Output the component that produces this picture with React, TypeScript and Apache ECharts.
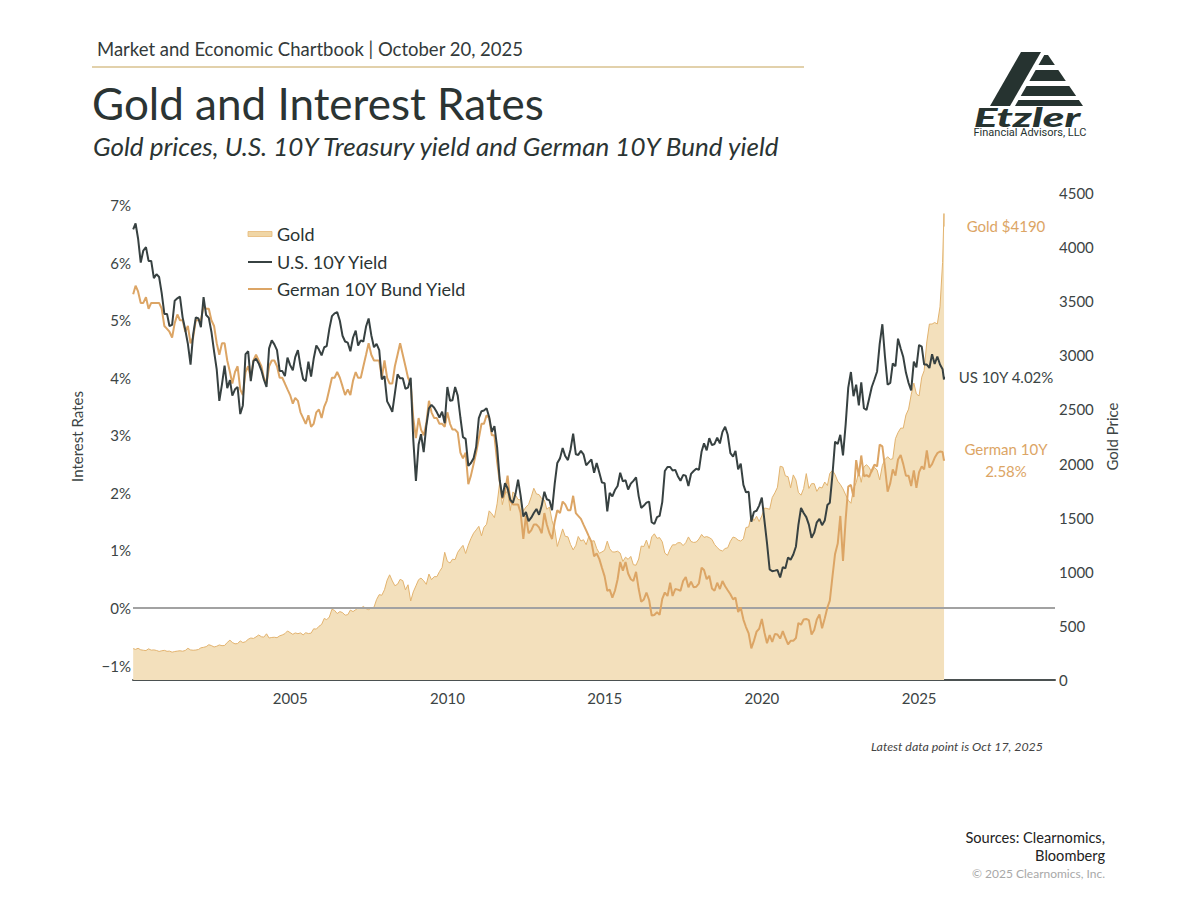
import React, { useEffect, useRef } from "react";
import * as echarts from "echarts";

// ---------- data ----------
// first value = 3 Jan 2000, then month-end observations Jan 2000 .. Sep 2025, then 16 & 17 Oct 2025
const START_DATE = "2000-01-03";
const FIRST_MONTH = [2000, 1];
const LAST_MONTH = [2025, 9];
const TAIL_DATES = ["2025-10-16", "2025-10-17"];

const US_10Y = [
  6.58,
  6.68, 6.42, 6.0, 6.21, 6.27, 6.03, 6.03, 5.73, 5.8, 5.75, 5.47, 5.11,
  5.11, 4.9, 4.92, 5.34, 5.38, 5.41, 5.05, 4.83, 4.59, 4.23, 4.75, 5.05,
  5.03, 4.88, 5.4, 5.09, 5.04, 4.8, 4.46, 4.14, 3.6, 3.89, 4.21, 3.82,
  3.96, 3.69, 3.8, 3.84, 3.37, 3.52, 4.41, 4.46, 3.94, 4.29, 4.33, 4.25,
  4.13, 3.97, 3.84, 4.51, 4.65, 4.58, 4.48, 4.12, 4.12, 4.03, 4.35, 4.22,
  4.13, 4.36, 4.48, 4.2, 3.98, 3.94, 4.28, 4.02, 4.33, 4.56, 4.49, 4.39,
  4.53, 4.55, 4.85, 5.07, 5.12, 5.14, 4.99, 4.73, 4.63, 4.61, 4.46, 4.7,
  4.82, 4.56, 4.65, 4.63, 4.89, 5.03, 4.74, 4.53, 4.59, 4.48, 3.97, 4.03,
  3.59, 3.51, 3.41, 3.73, 4.06, 3.99, 3.99, 3.81, 3.83, 4.0, 2.93, 2.21,
  2.84, 3.02, 2.71, 3.16, 3.47, 3.53, 3.48, 3.4, 3.31, 3.41, 3.21, 3.84,
  3.6, 3.61, 3.84, 3.69, 3.31, 2.97, 2.94, 2.47, 2.52, 2.6, 2.8, 3.3,
  3.42, 3.43, 3.47, 3.32, 3.06, 3.16, 2.8, 2.22, 1.92, 2.17, 2.08, 1.88,
  1.83, 1.98, 2.23, 1.95, 1.59, 1.67, 1.51, 1.57, 1.65, 1.72, 1.62, 1.78,
  2.02, 1.89, 1.87, 1.7, 2.16, 2.52, 2.6, 2.78, 2.64, 2.57, 2.75, 3.03,
  2.67, 2.66, 2.73, 2.67, 2.48, 2.53, 2.58, 2.35, 2.52, 2.35, 2.18, 2.17,
  1.68, 2.0, 1.94, 2.05, 2.12, 2.35, 2.2, 2.22, 2.06, 2.16, 2.21, 2.27,
  1.94, 1.74, 1.78, 1.83, 1.85, 1.49, 1.46, 1.58, 1.6, 1.84, 2.38, 2.45,
  2.45, 2.39, 2.4, 2.29, 2.21, 2.31, 2.3, 2.12, 2.33, 2.38, 2.42, 2.4,
  2.72, 2.86, 2.74, 2.95, 2.83, 2.85, 2.96, 2.86, 3.06, 3.15, 3.01, 2.69,
  2.63, 2.73, 2.41, 2.51, 2.14, 2.01, 2.02, 1.5, 1.67, 1.69, 1.78, 1.92,
  1.51, 1.13, 0.67, 0.64, 0.65, 0.66, 0.53, 0.71, 0.69, 0.88, 0.84, 0.93,
  1.07, 1.44, 1.74, 1.65, 1.58, 1.45, 1.22, 1.31, 1.49, 1.55, 1.44, 1.52,
  1.79, 1.83, 2.32, 2.89, 2.85, 3.01, 2.65, 3.19, 3.83, 4.1, 3.68, 3.88,
  3.52, 3.92, 3.47, 3.44, 3.64, 3.84, 3.97, 4.11, 4.59, 4.93, 4.37, 3.88,
  3.91, 4.25, 4.2, 4.68, 4.51, 4.36, 4.09, 3.91, 3.78, 4.28, 4.18, 4.57,
  4.54, 4.23, 4.23, 4.17, 4.41, 4.24, 4.37, 4.23, 4.15,
  3.97, 4.02,
];

const DE_10Y = [
  5.45,
  5.6, 5.5, 5.3, 5.3, 5.4, 5.2, 5.3, 5.3, 5.3, 5.3, 5.2, 4.9,
  4.85, 4.8, 4.7, 4.95, 5.1, 5.0, 5.0, 4.8, 4.9, 4.6, 4.7, 5.0,
  5.0, 5.0, 5.25, 5.2, 5.2, 5.0, 4.9, 4.6, 4.4, 4.6, 4.6, 4.3,
  4.1, 3.9, 4.1, 4.2, 3.8, 3.7, 4.1, 4.2, 4.0, 4.3, 4.4, 4.3,
  4.2, 4.0, 3.9, 4.2, 4.3, 4.3, 4.2, 4.0, 4.0, 3.9, 3.8, 3.7,
  3.55, 3.65, 3.6, 3.4, 3.3, 3.2, 3.35, 3.15, 3.2, 3.4, 3.45, 3.3,
  3.5, 3.6, 3.8, 4.0, 4.0, 4.1, 4.0, 3.85, 3.7, 3.8, 3.7, 3.95,
  4.1, 4.0, 4.0, 4.2, 4.4, 4.6, 4.4, 4.3, 4.3, 4.3, 4.0, 4.3,
  4.0, 3.9, 3.9, 4.2, 4.4, 4.6, 4.4, 4.2, 4.0, 3.9, 3.3, 2.95,
  3.3, 3.1, 3.0, 3.2, 3.6, 3.4, 3.3, 3.3, 3.2, 3.2, 3.15, 3.4,
  3.2, 3.1, 3.1, 3.05, 2.7, 2.6, 2.7, 2.15, 2.3, 2.5, 2.7, 2.95,
  3.2, 3.2, 3.35, 3.3, 3.0, 3.0, 2.55, 2.2, 1.9, 2.0, 2.3, 1.85,
  1.8, 1.8, 1.8, 1.65, 1.2, 1.6, 1.3, 1.35, 1.45, 1.45, 1.4, 1.3,
  1.65, 1.45, 1.3, 1.2, 1.5, 1.7, 1.65, 1.85, 1.8, 1.7, 1.7, 1.95,
  1.65, 1.6, 1.55, 1.45, 1.35, 1.25, 1.15, 0.9, 0.95, 0.85, 0.7, 0.55,
  0.3, 0.32, 0.18, 0.3, 0.5, 0.8, 0.65, 0.8, 0.6, 0.5, 0.47, 0.63,
  0.33, 0.11, 0.15, 0.27, 0.14, -0.13, -0.12, -0.07, -0.12, 0.16, 0.27, 0.21,
  0.44, 0.21, 0.33, 0.32, 0.3, 0.47, 0.54, 0.36, 0.46, 0.36, 0.37, 0.43,
  0.7, 0.66, 0.5, 0.56, 0.34, 0.3, 0.44, 0.33, 0.47, 0.38, 0.31, 0.24,
  0.15, 0.18, -0.07, 0.01, -0.2, -0.33, -0.44, -0.7, -0.57, -0.41, -0.36, -0.19,
  -0.43, -0.61, -0.47, -0.59, -0.45, -0.46, -0.53, -0.4, -0.52, -0.63, -0.57, -0.57,
  -0.52, -0.26, -0.29, -0.2, -0.19, -0.21, -0.46, -0.38, -0.2, -0.11, -0.35, -0.18,
  0.01, 0.13, 0.55, 0.94, 1.12, 1.6, 0.82, 1.54, 2.11, 2.14, 1.93, 2.57,
  2.29, 2.65, 2.29, 2.31, 2.28, 2.39, 2.49, 2.46, 2.84, 2.81, 2.45, 2.02,
  2.17, 2.41, 2.3, 2.58, 2.66, 2.5, 2.3, 2.3, 2.12, 2.39, 2.09, 2.36,
  2.46, 2.41, 2.74, 2.44, 2.5, 2.61, 2.69, 2.72, 2.71,
  2.56, 2.58,
];

const GOLD = [
  290,
  283, 293, 279, 275, 272, 288, 276, 278, 273, 264, 270, 274,
  265, 267, 257, 263, 267, 270, 266, 273, 293, 278, 275, 277,
  282, 297, 302, 308, 326, 318, 305, 312, 324, 317, 319, 347,
  368, 347, 334, 337, 361, 346, 354, 376, 388, 384, 398, 416,
  400, 396, 427, 388, 393, 395, 391, 408, 416, 428, 453, 438,
  422, 435, 428, 435, 417, 437, 429, 433, 473, 470, 496, 513,
  569, 557, 582, 654, 643, 614, 632, 623, 599, 604, 646, 632,
  650, 665, 662, 680, 659, 650, 665, 672, 743, 789, 783, 834,
  923, 972, 916, 871, 885, 930, 918, 833, 880, 730, 814, 870,
  927, 942, 917, 884, 979, 927, 955, 955, 1001, 1040, 1180, 1096,
  1081, 1116, 1113, 1180, 1215, 1244, 1169, 1246, 1307, 1357, 1387, 1420,
  1332, 1410, 1439, 1563, 1536, 1500, 1628, 1828, 1620, 1722, 1746, 1565,
  1738, 1710, 1668, 1664, 1561, 1598, 1622, 1692, 1772, 1719, 1713, 1675,
  1663, 1578, 1598, 1472, 1394, 1234, 1312, 1396, 1327, 1323, 1253, 1202,
  1244, 1326, 1284, 1296, 1250, 1327, 1282, 1287, 1216, 1171, 1183, 1199,
  1283, 1213, 1183, 1183, 1190, 1172, 1095, 1135, 1115, 1142, 1065, 1061,
  1118, 1238, 1233, 1293, 1215, 1322, 1351, 1309, 1316, 1277, 1173, 1152,
  1211, 1249, 1249, 1268, 1269, 1242, 1269, 1322, 1280, 1271, 1275, 1303,
  1345, 1318, 1325, 1316, 1299, 1253, 1224, 1201, 1192, 1215, 1222, 1282,
  1321, 1313, 1292, 1284, 1305, 1409, 1414, 1520, 1472, 1513, 1464, 1517,
  1589, 1585, 1577, 1686, 1730, 1781, 1975, 1968, 1886, 1879, 1776, 1895,
  1848, 1734, 1708, 1769, 1907, 1770, 1814, 1814, 1743, 1783, 1774, 1829,
  1797, 1909, 1937, 1897, 1837, 1807, 1766, 1711, 1661, 1633, 1768, 1824,
  1928, 1827, 1969, 1990, 1963, 1919, 1965, 1940, 1849, 1983, 2036, 2063,
  2039, 2044, 2230, 2286, 2327, 2327, 2448, 2503, 2635, 2744, 2643, 2625,
  2798, 2858, 3124, 3289, 3289, 3303, 3290, 3448, 3858,
  4310, 4190,
];

const X_TICKS = [2005, 2010, 2015, 2020, 2025];
const RATE_TICKS = [-1, 0, 1, 2, 3, 4, 5, 6, 7];
const GOLD_TICKS = [0, 500, 1000, 1500, 2000, 2500, 3000, 3500, 4000, 4500];

const LEGEND_NAMES = ["Gold", "U.S. 10Y Yield", "German 10Y Bund Yield"];

// ---------- helpers ----------
function pad(n: number) {
  return n < 10 ? "0" + n : String(n);
}
function buildDates(): string[] {
  const out = [START_DATE];
  let y = FIRST_MONTH[0];
  let m = FIRST_MONTH[1];
  while (y < LAST_MONTH[0] || (y === LAST_MONTH[0] && m <= LAST_MONTH[1])) {
    const last = new Date(Date.UTC(y, m, 0)).getUTCDate();
    out.push(`${y}-${pad(m)}-${pad(last)}`);
    m++;
    if (m > 12) {
      m = 1;
      y++;
    }
  }
  return out.concat(TAIL_DATES);
}
function toYear(d: string): number {
  const [y, m, dd] = d.split("-").map(Number);
  const s = Date.UTC(y, 0, 1);
  const e = Date.UTC(y + 1, 0, 1);
  return y + (Date.UTC(y, m - 1, dd) - s) / (e - s);
}

const FONT = "Lato, 'Noto Sans', sans-serif";
const DARK = "#2b3433";
const US_COLOR = "#374141";
const DE_COLOR = "#dca565";
const GOLD_LINE = "#e2b36f";
const GOLD_FILL = "#f3e0bc";

function pairs(dates: string[], vals: number[]) {
  const n = Math.min(dates.length, vals.length);
  const out: number[][] = [];
  for (let i = 0; i < n; i++) out.push([toYear(dates[i]), vals[i]]);
  return out;
}

function logoElements() {
  const fill = "#263330";
  const L = (y: number) => 1046 - ((y - 52) * 31) / 54;
  const R = (y: number) => 1048 + ((y - 55) * 35) / 51;
  const bands = [
    [55, 65],
    [70, 81],
    [86, 96],
    [100, 106],
  ];
  const els: any[] = [
    {
      type: "polygon",
      shape: { points: [[1021, 52], [1041, 52], [1010, 106], [990, 106]] },
      style: { fill },
    },
  ];
  bands.forEach(([a, b]) => {
    els.push({
      type: "polygon",
      shape: { points: [[L(a), a], [R(a), a], [R(b), b], [L(b), b]] },
      style: { fill },
    });
  });
  els.push({
    type: "group",
    x: 1027,
    y: 117,
    scaleX: 1.7,
    children: [
      {
        type: "text",
        style: {
          text: "Etzler",
          x: 0,
          y: 0,
          align: "center",
          verticalAlign: "middle",
          fontFamily: FONT,
          fontSize: 26,
          fontWeight: 900,
          fontStyle: "italic",
          fill,
        },
      },
    ],
  });
  els.push({
    type: "text",
    style: {
      text: "Financial Advisors, LLC",
      x: 1030,
      y: 132,
      align: "center",
      verticalAlign: "middle",
      fontFamily: "Roboto, sans-serif",
      fontSize: 11,
      fill,
    },
  });
  return els;
}

function txt(text: string, x: number, y: number, o: any = {}) {
  return {
    type: "text",
    silent: true,
    style: {
      text,
      x,
      y,
      align: o.align || "left",
      verticalAlign: "middle",
      fontFamily: FONT,
      fontSize: o.size || 15,
      fontStyle: o.italic ? "italic" : "normal",
      fontWeight: o.weight || "normal",
      fill: o.color || DARK,
    },
  };
}

export default function App() {
  const ref = useRef<HTMLDivElement>(null);

  useEffect(() => {
    if (!ref.current) return;
    const chart = echarts.init(ref.current, undefined, { renderer: "svg" });
    const dates = buildDates();

    const legendY = [234, 262, 289];

    const graphic: any[] = [
      txt("Market and Economic Chartbook | October 20, 2025", 97, 49, { size: 18.5, color: "#333a3a" }),
      {
        type: "line",
        shape: { x1: 92, y1: 67, x2: 804, y2: 67 },
        style: { stroke: "#d8c28f", lineWidth: 1.5 },
      },
      txt("Gold and Interest Rates", 92, 103, { size: 44, color: DARK }),
      txt("Gold prices, U.S. 10Y Treasury yield and German 10Y Bund yield", 93, 146, {
        size: 26,
        italic: true,
        color: DARK,
      }),
      ...logoElements(),
      // legend
      {
        type: "rect",
        shape: { x: 248, y: legendY[0] - 2.5, width: 24, height: 5 },
        style: { fill: "#f0d6a6", stroke: "#e6b977", lineWidth: 0.8 },
      },
      {
        type: "line",
        shape: { x1: 248, y1: legendY[1], x2: 272, y2: legendY[1] },
        style: { stroke: US_COLOR, lineWidth: 2 },
      },
      {
        type: "line",
        shape: { x1: 248, y1: legendY[2], x2: 272, y2: legendY[2] },
        style: { stroke: DE_COLOR, lineWidth: 2 },
      },
      ...LEGEND_NAMES.map((n, i) => txt(n, 277, legendY[i], { size: 18, color: DARK })),
      // end labels
      txt("Gold $4190", 1006, 226, { align: "center", color: DE_COLOR }),
      txt("US 10Y 4.02%", 1006, 377, { align: "center", color: "#3c4545" }),
      txt("German 10Y", 1006, 449, { align: "center", color: DE_COLOR }),
      txt("2.58%", 1006, 471, { align: "center", color: DE_COLOR }),
      // footer
      txt("Latest data point is Oct 17, 2025", 1043, 746, {
        align: "right",
        size: 12.4,
        italic: true,
        color: "#444",
      }),
      txt("Sources: Clearnomics,", 1105, 837, { align: "right", size: 14.6, color: "#222" }),
      txt("Bloomberg", 1105, 855, { align: "right", size: 14.6, color: "#222" }),
      txt("\u00a9 2025 Clearnomics, Inc.", 1105, 873, { align: "right", size: 12, color: "#a8a8a8" }),
    ];

    const option: any = {
      animation: false,
      backgroundColor: "#ffffff",
      textStyle: { fontFamily: FONT },
      grid: { left: 133, right: 145, top: 193, height: 487, containLabel: false },
      xAxis: {
        type: "value",
        min: 2000,
        max: 2029.32,
        axisLine: { show: true, onZero: false, lineStyle: { color: "#4b5151", width: 2 } },
        axisTick: { show: false },
        splitLine: { show: false },
        axisLabel: {
          customValues: X_TICKS,
          formatter: (v: number) => String(Math.round(v)),
          color: "#3c4444",
          fontSize: 15,
          fontFamily: FONT,
          margin: 10,
        },
      },
      yAxis: [
        {
          type: "value",
          min: -1.25,
          max: 7.21,
          position: "left",
          splitLine: { show: false },
          axisLine: { show: false },
          axisTick: { show: false },
          axisLabel: {
            customValues: RATE_TICKS,
            formatter: (v: number) => (v < 0 ? "\u2212" : "") + Math.abs(Math.round(v)) + "%",
            color: "#3c4444",
            fontSize: 15,
            fontFamily: FONT,
            margin: 2,
          },
          name: "Interest Rates",
          nameLocation: "middle",
          nameGap: 49,
          nameRotate: 90,
          nameTextStyle: { color: "#3c4444", fontSize: 15, fontFamily: FONT },
        },
        {
          type: "value",
          min: 0,
          max: 4500,
          position: "right",
          splitLine: { show: false },
          axisLine: { show: false },
          axisTick: { show: false },
          axisLabel: {
            customValues: GOLD_TICKS,
            formatter: (v: number) => String(Math.round(v)),
            color: "#3c4444",
            fontSize: 15,
            fontFamily: FONT,
            margin: 4,
          },
          name: "Gold Price",
          nameLocation: "middle",
          nameGap: 39,
          nameRotate: 90,
          nameTextStyle: { color: "#3c4444", fontSize: 15, fontFamily: FONT },
        },
      ],
      graphic,
      series: [
        {
          name: LEGEND_NAMES[0],
          type: "line",
          yAxisIndex: 1,
          data: pairs(dates, GOLD),
          symbol: "none",
          lineStyle: { color: GOLD_LINE, width: 1 },
          areaStyle: { color: GOLD_FILL, opacity: 1 },
          z: 1,
        },
        {
          name: LEGEND_NAMES[2],
          type: "line",
          yAxisIndex: 0,
          data: pairs(dates, DE_10Y),
          symbol: "none",
          lineStyle: { color: DE_COLOR, width: 2 },
          z: 3,
          markLine: {
            silent: true,
            symbol: ["none", "none"],
            label: { show: false },
            lineStyle: { color: "#a2a2a2", width: 2, type: "solid" },
            data: [{ yAxis: 0 }],
            z: 2,
          },
        },
        {
          name: LEGEND_NAMES[1],
          type: "line",
          yAxisIndex: 0,
          data: pairs(dates, US_10Y),
          symbol: "none",
          lineStyle: { color: US_COLOR, width: 2 },
          z: 4,
        },
      ],
    };
    chart.setOption(option);
    return () => chart.dispose();
  }, []);

  return (
    <div
      ref={ref}
      style={{ position: "fixed", left: 0, top: 0, width: 1200, height: 900, background: "#fff" }}
    />
  );
}
